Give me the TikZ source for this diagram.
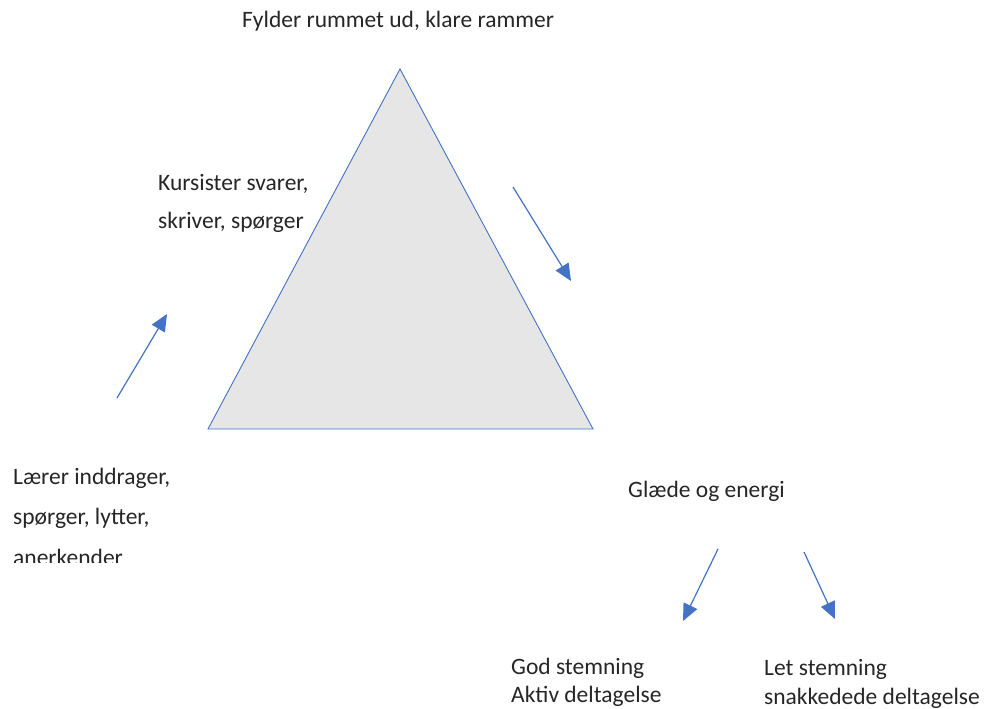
\documentclass[tikz,border=0pt]{standalone}
\usepackage{fontspec}
\setmainfont{Carlito}
\usetikzlibrary{arrows.meta}
\definecolor{tblue}{HTML}{4472C4}
\definecolor{tgray}{HTML}{E6E6E6}
\definecolor{ttext}{HTML}{262626}
\begin{document}
\begin{tikzpicture}[x=1pt,y=-1pt,
  lbl/.style={anchor=base west,inner sep=0pt,text=ttext,font=\fontsize{23.5}{28}\selectfont},
  arr/.style={draw=tblue,line width=1.2pt,-{Triangle[length=17pt,width=15pt]}}]
\useasboundingbox (0,0) rectangle (990,709);
% triangle
\coordinate (apex) at (400,69);
\coordinate (bl) at (208,429);
\coordinate (br) at (593,429);
\draw[tblue,fill=tgray,line width=0.9pt] (apex) -- (bl) -- (br) -- cycle;
% texts
\node[lbl] (top) at (242,28) {Fylder rummet ud, klare rammer};
\begin{scope}
\clip (140,150) rectangle (330,231);
\node[lbl] (k1) at (158,190) {Kursister svarer,};
\node[lbl] (k2) at (158,228) {skriver, spørger};
\end{scope}
\begin{scope}
\clip (0,450) rectangle (200,562);
\node[lbl] (l1) at (13,484) {Lærer inddrager,};
\node[lbl] (l2) at (13,524) {spørger, lytter,};
\node[lbl] (l3) at (13,565) {anerkender};
\end{scope}
\node[lbl] (g) at (628,497) {Glæde og energi};
\node[lbl] (gs1) at (511,674) {God stemning};
\node[lbl] (gs2) at (511,702) {Aktiv deltagelse};
\node[lbl] (ls1) at (764,675) {Let stemning};
\node[lbl] (ls2) at (764,704) {snakkedede deltagelse};
% arrows
\coordinate (a1s) at (117,398); \coordinate (a1e) at (167,314);
\coordinate (a2s) at (513,187); \coordinate (a2e) at (571,281);
\coordinate (a3s) at (718,549); \coordinate (a3e) at (683,621);
\coordinate (a4s) at (804,552); \coordinate (a4e) at (835,619);
\draw[arr] (a1s) -- (a1e);
\draw[arr] (a2s) -- (a2e);
\draw[arr] (a3s) -- (a3e);
\draw[arr] (a4s) -- (a4e);
\end{tikzpicture}
\end{document}
